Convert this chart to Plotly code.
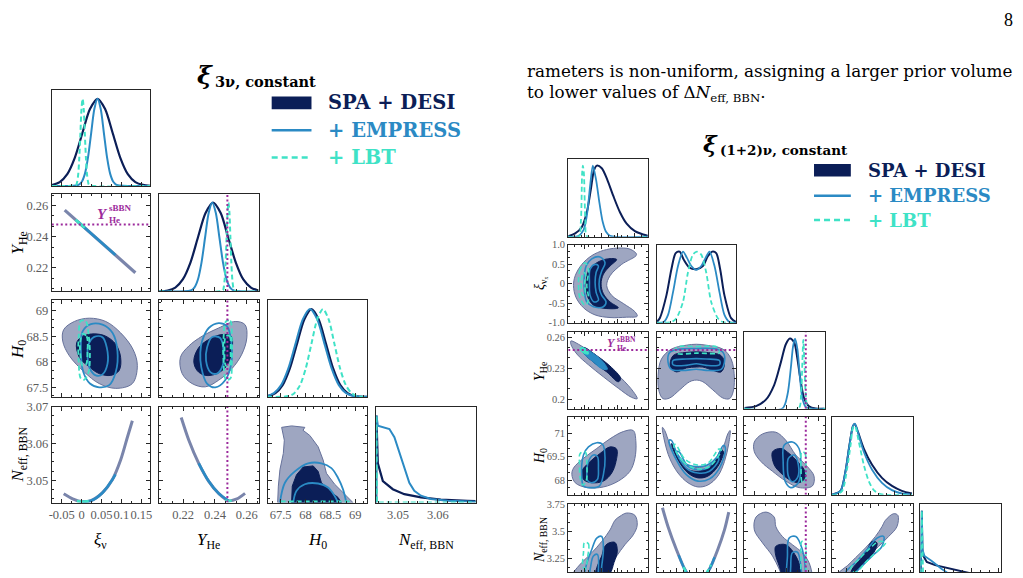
import plotly.graph_objects as go

# ======================= DATA =======================
# ---------- Left corner plot: xi_{3nu, constant} ----------
L_XI_TICKS = [-0.05, 0, 0.05, 0.1, 0.15]
L_XI_TICKTEXT = ['-0.05', '0', '0.05', '0.1', '0.15']
L_YHE_TICKS = [0.22, 0.24, 0.26]
L_YHE_TICKTEXT = ['0.22', '0.24', '0.26']
L_H0_TICKS = [67.5, 68, 68.5, 69]
L_H0_TICKTEXT = ['67.5', '68', '68.5', '69']
L_NEFF_TICKS = [3.05, 3.06, 3.07]
L_NEFF_TICKTEXT = ['3.05', '3.06', '3.07']
YHE_SBBN = 0.2478

# 1D marginals
L_XI_NAVY_X = [-0.075, -0.055, -0.036, -0.017, 0.002, 0.021, 0.04, 0.059, 0.078, 0.097, 0.116, 0.135, 0.154, 0.1725]
L_XI_NAVY_P = [0.01, 0.044, 0.135, 0.325, 0.607, 0.882, 1.0, 0.882, 0.607, 0.325, 0.135, 0.044, 0.011, 0.001]
L_XI_EMP_X = [-0.075, -0.008, 0.0, 0.008, 0.016, 0.024, 0.032, 0.04, 0.048, 0.056, 0.064, 0.072, 0.08, 0.088, 0.1725]
L_XI_EMP_P = [0.0, 0.011, 0.044, 0.135, 0.325, 0.607, 0.882, 1.0, 0.882, 0.607, 0.325, 0.135, 0.044, 0.011, 0.0]
L_XI_LBT_X = [-0.075, -0.014, -0.0113, -0.0085, -0.0058, -0.003, -0.0003, 0.0025, 0.0053, 0.008, 0.0108, 0.0135, 0.0163, 0.019, 0.1725]
L_XI_LBT_P = [0.0, 0.011, 0.044, 0.135, 0.325, 0.607, 0.882, 1.0, 0.882, 0.607, 0.325, 0.135, 0.044, 0.011, 0.0]

L_YHE_NAVY_X = [0.205, 0.2103, 0.2151, 0.2198, 0.2246, 0.2293, 0.2341, 0.2388, 0.2436, 0.2483, 0.2531, 0.2578, 0.2626, 0.2673]
L_YHE_NAVY_P = [0.002, 0.011, 0.044, 0.135, 0.325, 0.607, 0.882, 1.0, 0.882, 0.607, 0.325, 0.135, 0.044, 0.011]
L_YHE_EMP_X = [0.205, 0.2248, 0.22705, 0.2293, 0.23155, 0.2338, 0.23605, 0.2383, 0.24055, 0.2428, 0.24505, 0.2473, 0.24955, 0.2518, 0.2675]
L_YHE_EMP_P = [0.0, 0.011, 0.044, 0.135, 0.325, 0.607, 0.882, 1.0, 0.882, 0.607, 0.325, 0.135, 0.044, 0.011, 0.0]
L_YHE_LBT_X = [0.205, 0.2449, 0.2455, 0.2461, 0.2467, 0.2473, 0.2479, 0.2485, 0.2491, 0.2497, 0.2503, 0.2509, 0.2515, 0.2521, 0.2675]
L_YHE_LBT_P = [0.0, 0.011, 0.044, 0.135, 0.325, 0.607, 0.882, 1.0, 0.882, 0.607, 0.325, 0.135, 0.044, 0.011, 0.0]

L_H0_NAVY_X = [67.24, 67.395, 67.54, 67.685, 67.83, 67.975, 68.12, 68.265, 68.41, 68.555, 68.70, 68.845, 68.99, 69.24]
L_H0_NAVY_P = [0.01, 0.044, 0.135, 0.325, 0.607, 0.882, 1.0, 0.882, 0.607, 0.325, 0.135, 0.044, 0.011, 0.001]
L_H0_EMP_X = [67.24, 67.365, 67.51, 67.655, 67.80, 67.945, 68.09, 68.235, 68.38, 68.525, 68.67, 68.815, 68.96, 69.24]
L_H0_EMP_P = [0.013, 0.044, 0.135, 0.325, 0.607, 0.882, 1.0, 0.882, 0.607, 0.325, 0.135, 0.044, 0.011, 0.002]
L_H0_LBT_X = [67.24, 67.66, 67.775, 67.89, 68.005, 68.12, 68.235, 68.35, 68.465, 68.58, 68.695, 68.81, 68.925, 69.04, 69.24]
L_H0_LBT_P = [0.0, 0.011, 0.044, 0.135, 0.325, 0.607, 0.882, 1.0, 0.882, 0.607, 0.325, 0.135, 0.044, 0.011, 0.0]

L_NEFF_NAVY_X = [3.0445, 3.04455, 3.04492, 3.04618, 3.04868, 3.05158, 3.05575, 3.06075, 3.06743, 3.0695]
L_NEFF_NAVY_P = [0.0, 1.0, 0.452, 0.247, 0.154, 0.097, 0.06, 0.034, 0.019, 0.016]
L_NEFF_EMP_X = [3.0445, 3.04455, 3.04492, 3.04783, 3.04908, 3.05033, 3.05158, 3.05283, 3.05408, 3.05575, 3.05825, 3.06243, 3.0695]
L_NEFF_EMP_P = [0.0, 1.0, 0.883, 0.845, 0.752, 0.584, 0.396, 0.228, 0.135, 0.079, 0.042, 0.022, 0.011]
L_NEFF_LBT_X = [3.0445, 3.04455, 3.0447, 3.0695]
L_NEFF_LBT_P = [0.0, 1.0, 0.0, 0.0]

# 2D: (Y_He vs xi)
L21_BAND_X = [-0.0425, 0.135]
L21_BAND_Y = [0.257, 0.217]
L21_EMP_X = [-0.01, 0.085]
L21_EMP_Y = [0.2497, 0.2283]
L21_LBT_X = [-0.015, 0.0075]
L21_LBT_Y = [0.2508, 0.2457]
# 2D: (H0 vs xi)
L31_OUT_X = [-0.045, -0.0183, 0.0193, 0.0608, 0.098, 0.129, 0.14, 0.1275, 0.0858, 0.044, 0.0068, -0.0308, -0.0475]
L31_OUT_Y = [68.633, 68.793, 68.858, 68.793, 68.57, 68.248, 67.927, 67.575, 67.48, 67.575, 67.80, 68.12, 68.408]
L31_IN_X = [-0.0125, 0.0025, 0.0317, 0.0608, 0.0858, 0.098, 0.0942, 0.0733, 0.044, 0.015, -0.0058]
L31_IN_Y = [68.377, 68.504, 68.55, 68.504, 68.345, 68.09, 67.83, 67.735, 67.77, 67.927, 68.09]
L31_EMP1_X = [0.0025, 0.0233, 0.0525, 0.0775, 0.09, 0.0858, 0.0693, 0.044, 0.0208, 0.0043, -0.0018]
L31_EMP1_Y = [68.60, 68.742, 68.73, 68.57, 68.216, 67.80, 67.543, 67.50, 67.575, 67.80, 68.216]
L31_EMP2_X = [0.0175, 0.0317, 0.0525, 0.0633, 0.065, 0.0525, 0.0358, 0.0208, 0.015]
L31_EMP2_Y = [68.345, 68.49, 68.485, 68.28, 67.96, 67.755, 67.735, 67.865, 68.09]
L31_LBT1_X = [-0.0017, 0.0108, 0.0175, 0.0208, 0.0175, 0.0068, -0.0017, -0.0075, -0.0075]
L31_LBT1_Y = [68.806, 68.793, 68.537, 68.152, 67.80, 67.652, 67.67, 68.023, 68.47]
L31_LBT2_X = [0.0025, 0.0125, 0.015, 0.0108, 0.0025, -0.0033, -0.0033]
L31_LBT2_Y = [68.55, 68.504, 68.216, 67.947, 67.927, 68.152, 68.408]
# 2D: (H0 vs Y_He)
L32_OUT_X = [0.2183, 0.2236, 0.2319, 0.2423, 0.2527, 0.2589, 0.26, 0.2569, 0.2506, 0.2423, 0.2339, 0.2256, 0.2194]
L32_OUT_Y = [68.09, 68.312, 68.504, 68.665, 68.793, 68.73, 68.47, 68.152, 67.865, 67.64, 67.51, 67.575, 67.77]
L32_IN_X = [0.2267, 0.2298, 0.2361, 0.2444, 0.2502, 0.2506, 0.2475, 0.2413, 0.2339, 0.2288]
L32_IN_Y = [68.023, 68.28, 68.44, 68.537, 68.504, 68.216, 67.927, 67.77, 67.735, 67.83]
L32_EMP1_X = [0.2319, 0.2361, 0.2423, 0.2475, 0.2502, 0.2502, 0.2464, 0.2402, 0.235, 0.2314, 0.2308]
L32_EMP1_Y = [68.408, 68.665, 68.762, 68.70, 68.408, 67.96, 67.64, 67.50, 67.575, 67.897, 68.185]
L32_EMP2_X = [0.235, 0.2381, 0.2433, 0.2454, 0.2448, 0.2413, 0.2371, 0.2344]
L32_EMP2_Y = [68.28, 68.485, 68.47, 68.216, 67.927, 67.77, 67.80, 68.023]
L32_LBT1_X = [0.2469, 0.2496, 0.2506, 0.2506, 0.2496, 0.2469, 0.2454, 0.2454]
L32_LBT1_Y = [68.793, 68.806, 68.47, 68.023, 67.67, 67.652, 68.023, 68.47]
L32_LBT2_X = [0.2469, 0.2492, 0.2498, 0.2492, 0.2469, 0.246]
L32_LBT2_Y = [68.504, 68.504, 68.216, 67.927, 67.927, 68.216]
# 2D: (Neff vs xi), (Neff vs Y_He)
L41_BAND_X = [-0.045, -0.0225, 0.0025, 0.0233, 0.0525, 0.0775, 0.098, 0.115, 0.1275]
L41_BAND_Y = [3.0463, 3.0449, 3.0441, 3.0444, 3.0466, 3.0502, 3.0555, 3.0617, 3.0662]
L41_EMP_X = [0.0025, 0.0233, 0.0525, 0.0775, 0.085]
L41_EMP_Y = [3.0441, 3.0444, 3.0466, 3.0502, 3.0516]
L41_LBT_X = [-0.012, 0.004, 0.018]
L41_LBT_Y = [3.0443, 3.0441, 3.0443]
L42_BAND_X = [0.2188, 0.2236, 0.2298, 0.2361, 0.2423, 0.2486, 0.2538, 0.2589]
L42_BAND_Y = [3.0671, 3.0609, 3.0546, 3.0497, 3.0464, 3.0444, 3.0449, 3.0464]
L42_EMP_X = [0.2298, 0.2361, 0.2423, 0.2486]
L42_EMP_Y = [3.0546, 3.0497, 3.0464, 3.0444]
L42_LBT_X = [0.2465, 0.2486, 0.2505]
L42_LBT_Y = [3.0445, 3.0443, 3.0445]
# 2D: (Neff vs H0)
L43_OUT_X = [67.44, 67.454, 67.486, 67.554, 67.574, 67.554, 67.52, 67.72, 67.986, 67.95, 68.086, 68.254, 68.354, 68.42, 68.586, 68.786, 68.954]
L43_OUT_Y = [3.0439, 3.0484, 3.0529, 3.0573, 3.0609, 3.0626, 3.0644, 3.0648, 3.0644, 3.0636, 3.0622, 3.0591, 3.0555, 3.0519, 3.0489, 3.0462, 3.0439]
L43_IN_X = [67.72, 67.734, 67.82, 67.954, 68.154, 68.254, 68.32, 68.486, 68.654, 68.72]
L43_IN_Y = [3.0439, 3.0484, 3.0515, 3.0536, 3.0539, 3.0524, 3.0493, 3.0471, 3.0453, 3.0439]
L43_EMP1_X = [67.486, 67.586, 67.786, 68.054, 68.32, 68.52, 68.654, 68.754, 68.82]
L43_EMP1_Y = [3.0439, 3.0493, 3.0524, 3.0546, 3.0546, 3.0533, 3.0506, 3.0475, 3.0439]
L43_EMP2_X = [67.754, 67.82, 67.986, 68.254, 68.454, 68.586, 68.654]
L43_EMP2_Y = [3.0439, 3.0471, 3.0489, 3.0491, 3.048, 3.0457, 3.0439]
L43_LBT_X = [67.5, 68.9]
L43_LBT_Y = [3.0442, 3.0442]

# ---------- Right corner plot: xi_{(1+2)nu, constant} ----------
R_XIE_TICKS = [-0.05, 0, 0.05, 0.1, 0.15]
R_XIX_TICKS = [-1, -0.5, 0, 0.5, 1]
R_XIX_TICKTEXT = ['-1.0', '-0.5', '0', '0.5', '1.0']
R_YHE_TICKS = [0.2, 0.23, 0.26]
R_YHE_TICKTEXT = ['0.2', '0.23', '0.26']
R_H0_TICKS = [68, 69.5, 71]
R_H0_TICKTEXT = ['68', '69.5', '71']
R_NEFF_TICKS = [3.25, 3.5, 3.75]
R_NEFF_TICKTEXT = ['3.25', '3.5', '3.75']

R_XIE_NAVY_X = [-0.05, -0.029, -0.0089, 0.0061, 0.0181, 0.028, 0.0361, 0.0511, 0.0679, 0.0859, 0.106, 0.1261, 0.151, 0.176, 0.19]
R_XIE_NAVY_P = [0.008, 0.046, 0.1375, 0.344, 0.664, 0.939, 1.0, 0.9625, 0.80, 0.573, 0.344, 0.183, 0.078, 0.032, 0.014]
R_XIE_EMP_X = [-0.05, -0.0191, -0.004, 0.0061, 0.016, 0.0241, 0.034, 0.044, 0.0541, 0.064, 0.076, 0.19]
R_XIE_EMP_P = [0.0, 0.01, 0.092, 0.298, 0.711, 1.0, 0.80, 0.481, 0.206, 0.069, 0.014, 0.0]
R_XIE_LBT_X = [-0.05, -0.018, -0.0119, -0.008, -0.0059, -0.0029, 0.0019, 0.0079, 0.19]
R_XIE_LBT_P = [0.0, 0.0, 0.21, 0.90, 1.0, 0.90, 0.21, 0.0, 0.0]

R_XIX_NAVY_X = [-1.0, -0.925, -0.758, -0.633, -0.525, -0.425, -0.325, -0.175, -0.008, 0.158, 0.283, 0.392, 0.492, 0.592, 0.70, 0.867, 0.992]
R_XIX_NAVY_P = [0.01, 0.064, 0.385, 0.752, 0.98, 1.0, 0.89, 0.774, 0.752, 0.798, 0.935, 1.0, 0.98, 0.752, 0.385, 0.064, 0.01]
R_XIX_EMP_X = [-1.0, -0.825, -0.717, -0.592, -0.467, -0.342, -0.242, -0.133, -0.008, 0.117, 0.225, 0.325, 0.45, 0.575, 0.70, 0.825, 1.0]
R_XIX_EMP_P = [0.0, 0.01, 0.11, 0.43, 0.798, 1.0, 0.912, 0.798, 0.743, 0.798, 0.912, 1.0, 0.798, 0.43, 0.11, 0.01, 0.0]
R_XIX_LBT_X = [-1.0, -0.633, -0.508, -0.342, -0.217, -0.092, 0.008, 0.117, 0.242, 0.367, 0.533, 0.658, 1.0]
R_XIX_LBT_P = [0.0, 0.01, 0.064, 0.293, 0.706, 0.958, 1.0, 0.958, 0.706, 0.293, 0.064, 0.01, 0.0]

R_YHE_NAVY_X = [0.1905, 0.2014, 0.2106, 0.2183, 0.2246, 0.2292, 0.233, 0.237, 0.24, 0.2431, 0.2462, 0.2508, 0.257, 0.2648]
R_YHE_NAVY_P = [0.012, 0.037, 0.13, 0.338, 0.664, 0.919, 1.0, 0.943, 0.71, 0.386, 0.153, 0.037, 0.004, 0.0]
R_YHE_EMP_X = [0.1905, 0.226, 0.2307, 0.2338, 0.236, 0.2378, 0.24, 0.2422, 0.2446, 0.2478, 0.2539, 0.2657]
R_YHE_EMP_P = [0.0, 0.004, 0.20, 0.571, 0.895, 1.0, 0.85, 0.478, 0.153, 0.024, 0.0, 0.0]
R_YHE_LBT_X = [0.1905, 0.2409, 0.2434, 0.2446, 0.2455, 0.2465, 0.2478, 0.2502, 0.2657]
R_YHE_LBT_P = [0.0, 0.0, 0.20, 0.664, 0.98, 0.664, 0.20, 0.0, 0.0]

R_H0_NAVY_X = [67.06, 67.185, 67.60, 67.91, 68.16, 68.39, 68.50, 68.70, 69.06, 69.58, 70.20, 70.83, 71.45, 72.08]
R_H0_NAVY_P = [0.005, 0.009, 0.055, 0.33, 0.697, 0.972, 0.994, 0.88, 0.65, 0.422, 0.238, 0.124, 0.055, 0.018]
R_H0_EMP_X = [67.06, 67.185, 67.60, 67.91, 68.16, 68.39, 68.50, 68.75, 69.06, 69.58, 70.20, 70.83, 71.45, 72.08]
R_H0_EMP_P = [0.005, 0.009, 0.055, 0.33, 0.697, 0.972, 1.0, 0.834, 0.605, 0.353, 0.169, 0.065, 0.018, 0.005]
R_H0_LBT_X = [67.06, 67.29, 67.70, 68.02, 68.23, 68.39, 68.50, 68.75, 69.06, 69.37, 69.69, 70.0, 70.42, 72.08]
R_H0_LBT_P = [0.0, 0.0, 0.055, 0.376, 0.697, 0.949, 0.972, 0.742, 0.422, 0.193, 0.065, 0.018, 0.0, 0.0]

R_NEFF_NAVY_X = [3.035, 3.0468, 3.0532, 3.0923, 3.1686, 3.2895, 3.4414, 3.6, 3.77]
R_NEFF_NAVY_P = [0.0, 1.0, 0.385, 0.28, 0.234, 0.188, 0.133, 0.08, 0.05]
R_NEFF_EMP_X = [3.035, 3.0468, 3.0532, 3.0714, 3.1377, 3.2286, 3.3195, 3.5, 3.77]
R_NEFF_EMP_P = [0.0, 1.0, 0.454, 0.362, 0.293, 0.179, 0.087, 0.03, 0.0]
R_NEFF_LBT_X = [3.035, 3.0468, 3.06, 3.77]
R_NEFF_LBT_P = [0.0, 1.0, 0.0, 0.0]

R21_OUT_X = [0.156, 0.136, 0.096, 0.056, 0.021, -0.009, -0.029, -0.034, -0.027, -0.004, 0.031, 0.076, 0.126, 0.158, 0.151, 0.116, 0.081, 0.066, 0.076, 0.111]
R21_OUT_Y = [0.742, 0.883, 0.908, 0.85, 0.717, 0.492, 0.20, -0.05, -0.342, -0.617, -0.80, -0.867, -0.858, -0.833, -0.717, -0.508, -0.30, -0.05, 0.20, 0.492]
R21_IN_X = [0.096, 0.068, 0.036, 0.011, 0.004, 0.009, 0.026, 0.061, 0.101, 0.076, 0.056, 0.049, 0.056, 0.076]
R21_IN_Y = [0.617, 0.633, 0.533, 0.325, -0.008, -0.342, -0.55, -0.633, -0.617, -0.467, -0.258, -0.008, 0.242, 0.45]
R21_EMP1_X = [0.046, 0.021, 0.004, -0.002, -0.001, 0.006, 0.026, 0.056, 0.064, 0.051, 0.044, 0.044, 0.051, 0.061]
R21_EMP1_Y = [0.683, 0.633, 0.45, 0.117, -0.217, -0.467, -0.592, -0.592, -0.467, -0.30, -0.133, 0.117, 0.325, 0.533]
R21_EMP2_X = [0.031, 0.016, 0.014, 0.016, 0.028, 0.041, 0.034, 0.031, 0.034, 0.041]
R21_EMP2_Y = [0.492, 0.367, 0.033, -0.30, -0.467, -0.425, -0.217, 0.033, 0.283, 0.45]
R21_LBT1_X = [0.001, -0.014, -0.019, -0.014, 0.001, 0.011, 0.006, 0.011]
R21_LBT1_Y = [0.533, 0.367, -0.008, -0.383, -0.55, -0.425, -0.05, 0.367]
R21_LBT2_X = [-0.004, -0.011, -0.006, 0.001, -0.001, 0.002]
R21_LBT2_Y = [0.283, -0.008, -0.30, -0.258, -0.008, 0.242]

R31_OUT_X = [-0.042, -0.019, 0.021, 0.066, 0.111, 0.146, 0.158, 0.141, 0.101, 0.056, 0.011, -0.024, -0.042]
R31_OUT_Y = [0.2565, 0.2533, 0.2447, 0.2333, 0.22, 0.2073, 0.2003, 0.2016, 0.2105, 0.2216, 0.2333, 0.2438, 0.2533]
R31_IN_X = [-0.004, 0.036, 0.076, 0.108, 0.101, 0.066, 0.026, -0.006]
R31_IN_Y = [0.2502, 0.2422, 0.2321, 0.22, 0.2168, 0.2264, 0.2359, 0.246]
R31_EMP1_X = [-0.009, 0.021, 0.056, 0.068, 0.051, 0.021, -0.004]
R31_EMP1_Y = [0.2502, 0.2454, 0.2359, 0.2289, 0.2295, 0.2374, 0.2447]
R31_EMP2_X = [0.006, 0.041, 0.038, 0.004]
R31_EMP2_Y = [0.2454, 0.2374, 0.2352, 0.2428]
R31_LBT_X = [-0.012, 0.006, 0.011, -0.004, -0.014]
R31_LBT_Y = [0.2502, 0.2479, 0.2438, 0.2447, 0.2479]

R32_OUT_X = [-0.633, -0.258, -0.008, 0.242, 0.658, 0.867, 0.95, 0.908, 0.825, 0.658, 0.408, 0.158, -0.008, -0.175, -0.425, -0.675, -0.842, -0.942, -0.967, -0.883]
R32_OUT_Y = [0.2486, 0.2524, 0.2533, 0.2524, 0.2486, 0.239, 0.22, 0.2057, 0.2003, 0.201, 0.2089, 0.2168, 0.2184, 0.2168, 0.2089, 0.201, 0.2003, 0.2073, 0.2231, 0.239]
R32_IN_X = [-0.592, -0.258, 0.242, 0.617, 0.70, 0.617, 0.408, 0.158, -0.008, -0.258, -0.508, -0.658]
R32_IN_Y = [0.2422, 0.2454, 0.2454, 0.2422, 0.2343, 0.2264, 0.2279, 0.2311, 0.2311, 0.2302, 0.2264, 0.2311]
R32_EMP1_X = [-0.675, -0.425, -0.008, 0.492, 0.675, 0.70, 0.617, 0.242, -0.008, -0.342, -0.633, -0.717]
R32_EMP1_Y = [0.2454, 0.2486, 0.2492, 0.2486, 0.2447, 0.2359, 0.2289, 0.2279, 0.2289, 0.2279, 0.2289, 0.2359]
R32_EMP2_X = [-0.592, -0.258, 0.242, 0.575, 0.575, 0.242, -0.008, -0.258, -0.592]
R32_EMP2_Y = [0.2374, 0.239, 0.239, 0.2374, 0.2333, 0.2327, 0.2343, 0.2327, 0.2333]
R32_LBT_X = [-0.508, -0.008, 0.533, 0.575, -0.008, -0.508]
R32_LBT_Y = [0.2502, 0.2511, 0.2502, 0.2454, 0.2447, 0.2447]

R41_OUT_X = [-0.034, -0.004, 0.036, 0.076, 0.116, 0.146, 0.154, 0.151, 0.136, 0.101, 0.056, 0.006, -0.029, -0.039]
R41_OUT_Y = [68.77, 69.39, 70.02, 70.64, 71.10, 71.17, 70.44, 69.39, 68.56, 67.935, 67.56, 67.52, 67.83, 68.35]
R41_IN_X = [-0.009, 0.016, 0.046, 0.076, 0.096, 0.094, 0.081, 0.056, 0.021, -0.004]
R41_IN_Y = [68.56, 69.185, 69.70, 70.12, 69.98, 69.185, 68.45, 67.935, 67.83, 68.04]
R41_EMP1_X = [-0.009, -0.004, 0.011, 0.036, 0.054, 0.061, 0.056, 0.044, 0.016, -0.004]
R41_EMP1_Y = [68.14, 69.60, 70.12, 70.39, 70.27, 69.39, 68.35, 67.62, 67.52, 67.62]
R41_EMP2_X = [0.006, 0.011, 0.026, 0.038, 0.041, 0.038, 0.021, 0.008]
R41_EMP2_Y = [68.35, 69.185, 69.60, 69.50, 68.77, 68.04, 67.83, 67.98]
R41_LBT_X = [-0.014, 0.001, 0.006, 0.004, -0.006, -0.014, -0.016]
R41_LBT_Y = [69.70, 69.81, 68.98, 67.935, 67.685, 68.14, 68.98]

R42_OUT_X = [-0.858, -0.80, -0.675, -0.467, -0.217, 0.033, 0.283, 0.533, 0.70, 0.808, 0.842, 0.783, 0.658, 0.45, 0.20, -0.05, -0.30, -0.508, -0.675, -0.80]
R42_OUT_Y = [71.37, 70.435, 69.39, 68.45, 67.83, 67.56, 67.685, 68.25, 69.185, 70.33, 71.17, 70.95, 70.02, 69.29, 68.87, 68.81, 69.02, 69.60, 70.33, 71.17]
R42_IN_X = [-0.633, -0.467, -0.217, 0.033, 0.283, 0.533, 0.675, 0.617, 0.45, 0.20, -0.008, -0.258, -0.467, -0.592]
R42_IN_Y = [70.33, 69.29, 68.45, 68.14, 68.25, 68.87, 69.81, 69.92, 69.185, 68.67, 68.56, 68.73, 69.39, 70.23]
R42_EMP1_X = [-0.692, -0.508, -0.258, 0.033, 0.325, 0.575, 0.725, 0.675, 0.492, 0.242, -0.008, -0.258, -0.492, -0.633]
R42_EMP1_Y = [70.54, 69.29, 68.35, 67.935, 68.08, 68.77, 70.02, 70.23, 69.39, 68.935, 68.87, 69.02, 69.70, 70.54]
R42_EMP2_X = [-0.508, -0.258, 0.033, 0.325, 0.558, 0.533, 0.283, 0.033, -0.217, -0.442]
R42_EMP2_Y = [69.81, 68.77, 68.45, 68.56, 69.29, 69.50, 68.77, 68.67, 68.87, 69.81]
R42_LBT_X = [-0.575, -0.342, -0.008, 0.325, 0.617, 0.558, 0.283, -0.008, -0.30, -0.525]
R42_LBT_Y = [70.23, 69.185, 68.73, 68.87, 69.92, 69.98, 69.08, 68.98, 69.35, 70.27]

R43_OUT_X = [0.1998, 0.2075, 0.2199, 0.2292, 0.2385, 0.2492, 0.2555, 0.2539, 0.2415, 0.2292, 0.2168, 0.206, 0.1998]
R43_OUT_Y = [70.435, 70.95, 71.06, 70.54, 69.60, 68.87, 68.25, 67.62, 67.52, 67.935, 68.56, 69.185, 69.81]
R43_IN_X = [0.2168, 0.2246, 0.2323, 0.24, 0.2462, 0.2471, 0.2415, 0.2323, 0.2246, 0.2183]
R43_IN_Y = [69.81, 70.02, 69.70, 69.185, 68.67, 68.14, 67.83, 68.04, 68.45, 68.98]
R43_EMP1_X = [0.2276, 0.2353, 0.2415, 0.2431, 0.2409, 0.2338, 0.2285, 0.2267]
R43_EMP1_Y = [70.23, 70.435, 70.02, 68.77, 67.83, 67.52, 67.935, 69.185]
R43_EMP2_X = [0.2316, 0.2369, 0.2409, 0.24, 0.2353, 0.2316, 0.2307]
R43_EMP2_Y = [69.39, 69.60, 68.98, 68.14, 67.89, 68.25, 68.87]
R43_LBT_X = [0.2441, 0.2471, 0.2478, 0.2471, 0.2446, 0.2434]
R43_LBT_Y = [69.81, 69.70, 68.77, 67.935, 67.83, 68.77]

R51_OUT_X = [0.106, 0.126, 0.151, 0.158, 0.146, 0.121, 0.096, 0.074, 0.056, -0.045, -0.034, -0.009, 0.021, 0.051, 0.076, 0.091]
R51_OUT_Y = [3.641, 3.671, 3.65, 3.559, 3.468, 3.377, 3.271, 3.165, 3.059, 3.059, 3.12, 3.211, 3.302, 3.407, 3.514, 3.604]
R51_IN_X = [0.068, 0.091, 0.098, 0.088, 0.074, 0.031, 0.038, 0.051, 0.058]
R51_IN_Y = [3.386, 3.398, 3.316, 3.211, 3.104, 3.059, 3.18, 3.271, 3.347]
R51_EMP1_X = [0.036, 0.051, 0.056, 0.051, 0.046, 0.001, 0.004, 0.021]
R51_EMP1_Y = [3.438, 3.453, 3.332, 3.18, 3.059, 3.059, 3.18, 3.332]
R51_EMP2_X = [0.026, 0.038, 0.041, 0.036, 0.016, 0.018]
R51_EMP2_Y = [3.271, 3.286, 3.15, 3.059, 3.059, 3.18]
R51_LBT_X = [-0.001, 0.011, 0.009, 0.001, -0.006, -0.004]
R51_LBT_Y = [3.398, 3.386, 3.271, 3.15, 3.18, 3.302]

R52_BAND_X = [-0.858, -0.717, -0.508, -0.30, -0.15, 0.0, 0.15, 0.325, 0.533, 0.70, 0.808]
R52_BAND_Y = [3.72, 3.544, 3.332, 3.15, 3.07, 3.044, 3.07, 3.15, 3.332, 3.514, 3.68]
R52_EMP_X = [-0.45, -0.30, -0.15, 0.0, 0.15, 0.325, 0.45]
R52_EMP_Y = [3.28, 3.15, 3.07, 3.044, 3.07, 3.15, 3.26]
R52_LBT_X = [-0.33, -0.2, 0.0, 0.2, 0.36]
R52_LBT_Y = [3.17, 3.09, 3.044, 3.09, 3.19]

R53_OUT_X = [0.2014, 0.2106, 0.2183, 0.2199, 0.226, 0.2353, 0.2446, 0.2508, 0.2539, 0.2539, 0.2292, 0.223, 0.2168, 0.2075, 0.1998]
R53_OUT_Y = [3.634, 3.68, 3.634, 3.544, 3.453, 3.377, 3.302, 3.211, 3.089, 3.029, 3.029, 3.15, 3.271, 3.393, 3.514]
R53_IN_X = [0.2199, 0.2292, 0.2385, 0.2431, 0.2446, 0.2292, 0.223, 0.2193]
R53_IN_Y = [3.362, 3.377, 3.271, 3.15, 3.029, 3.029, 3.18, 3.302]
R53_EMP1_X = [0.2323, 0.2385, 0.2446, 0.2471, 0.2462, 0.2316, 0.2307]
R53_EMP1_Y = [3.438, 3.453, 3.332, 3.18, 3.029, 3.029, 3.271]
R53_EMP2_X = [0.2353, 0.24, 0.2431, 0.2431, 0.2348, 0.2338]
R53_EMP2_Y = [3.302, 3.307, 3.18, 3.029, 3.029, 3.18]
R53_LBT_X = [0.2441, 0.2471, 0.2478, 0.2471, 0.2441, 0.2434]
R53_LBT_Y = [3.407, 3.393, 3.211, 3.029, 3.029, 3.241]

R54_OUT_X = [70.42, 70.935, 71.20, 71.14, 70.62, 70.0, 69.37, 68.75, 68.23, 67.50, 67.08, 67.50, 68.02, 68.54, 69.165, 69.79, 70.20]
R54_OUT_Y = [3.604, 3.665, 3.65, 3.544, 3.453, 3.362, 3.271, 3.18, 3.089, 3.029, 3.029, 3.12, 3.18, 3.256, 3.347, 3.453, 3.544]
R54_IN_X = [69.58, 69.89, 69.685, 69.165, 68.64, 68.23, 68.33, 68.85, 69.27]
R54_IN_Y = [3.407, 3.393, 3.302, 3.211, 3.135, 3.089, 3.15, 3.241, 3.332]
R54_EMP_X = [69.89, 70.31, 70.20, 69.58, 68.955, 68.435, 68.02, 67.92, 68.54, 69.27]
R54_EMP_Y = [3.438, 3.453, 3.362, 3.271, 3.18, 3.104, 3.059, 3.12, 3.211, 3.332]
R54_LBT_X = [70.0, 70.42, 69.79, 69.165, 68.54, 68.23, 68.85, 69.48]
R54_LBT_Y = [3.407, 3.393, 3.302, 3.211, 3.12, 3.15, 3.256, 3.347]

LEGEND_LABELS = ['SPA + DESI', '+ EMPRESS', '+ LBT']

# ======================= STYLE / LAYOUT =======================
W, H = 1023, 578
NAVY = '#0b1e57'
SLATE = '#9ea6c1'
SLATE_EDGE = '#66719a'
BAND = '#7a85ab'
BLUE = '#2b8ac4'
CYAN = '#3fe2c6'
PURPLE = '#9c2a9c'
FRAME = '#262626'
TICKC = '#5c5c5c'
SERIF = 'Liberation Serif, DejaVu Serif, serif'
BOLDSERIF = 'DejaVu Serif, Liberation Serif, serif'
LBT_DASH = '5px,3px'

L_COLS = [(49, 148), (157, 257), (266, 366), (375, 475)]
L_ROWS = [(85, 183), (191, 291), (300, 399), (409, 507)]
R_COLS = [(568, 648), (657, 737), (745, 826), (833, 914), (922, 1003)]
R_ROWS = [(155, 235), (243, 323), (332, 411), (419, 499), (508, 578)]

fig = go.Figure()
layout = dict(width=W, height=H, margin=dict(l=0, r=0, t=0, b=0),
              paper_bgcolor='white', plot_bgcolor='white', showlegend=False)
_count = [0]


def add_axes(xb, yb, xcfg, ycfg):
    _count[0] += 1
    n = _count[0]
    s = '' if n == 1 else str(n)
    layout['xaxis' + s] = dict(xcfg, domain=[xb[0] / W, xb[1] / W], anchor='y' + s)
    layout['yaxis' + s] = dict(ycfg, domain=[1 - yb[1] / H, 1 - yb[0] / H], anchor='x' + s)
    return ('x' + s, 'y' + s)


def tick_axis(rng, tv, tt, mdt, labels, mirror_ticks, fsize):
    return dict(range=rng, showline=True, linecolor=FRAME, linewidth=1,
                mirror='allticks' if mirror_ticks else True,
                ticks='inside', ticklen=4, tickwidth=1, tickcolor=FRAME,
                tickmode='array', tickvals=tv, ticktext=tt if tt else [str(v) for v in tv],
                showticklabels=labels, tickangle=0,
                tickfont=dict(family=SERIF, size=fsize, color=TICKC),
                minor=dict(ticks='inside', ticklen=2, tickwidth=1, tickcolor=FRAME,
                           tickmode='linear', tick0=tv[0], dtick=mdt, showgrid=False),
                showgrid=False, zeroline=False, fixedrange=True)


def blank_axis(rng):
    return dict(range=rng, showline=True, linecolor=FRAME, linewidth=1, mirror=True,
                ticks='', showticklabels=False, showgrid=False, zeroline=False, fixedrange=True)


def curve(ax, xs, ys, color, width=2.0, dash='solid', shape='spline', smooth=0.8):
    fig.add_trace(go.Scatter(x=list(xs), y=list(ys), xaxis=ax[0], yaxis=ax[1], mode='lines',
                             line=dict(color=color, width=width, dash=dash, shape=shape,
                                       smoothing=smooth if shape == 'spline' else None),
                             hoverinfo='skip'))


def filled(ax, xs, ys, fill, edge, shape='spline'):
    xs = list(xs) + [xs[0]]
    ys = list(ys) + [ys[0]]
    fig.add_trace(go.Scatter(x=xs, y=ys, xaxis=ax[0], yaxis=ax[1], mode='lines', fill='toself',
                             fillcolor=fill,
                             line=dict(color=edge, width=1, shape=shape,
                                       smoothing=1.0 if shape == 'spline' else None),
                             hoverinfo='skip'))


def ring(ax, xs, ys, color, dash='solid', closed=True, width=1.8, shape='spline'):
    xs = list(xs) + ([xs[0]] if closed else [])
    ys = list(ys) + ([ys[0]] if closed else [])
    curve(ax, xs, ys, color, width=width, dash=dash, shape=shape, smooth=1.0)


def vline(ax, x, yr):
    curve(ax, [x, x], yr, PURPLE, width=2, dash='2px,2.5px', shape='linear')


def hline(ax, y, xr):
    curve(ax, xr, [y, y], PURPLE, width=2, dash='2px,2.5px', shape='linear')


# ---------------- Left plot axes ----------------
L_X = [dict(r=[-0.075, 0.1725], tv=L_XI_TICKS, tt=L_XI_TICKTEXT, m=0.025),
       dict(r=[0.205, 0.2675], tv=L_YHE_TICKS, tt=L_YHE_TICKTEXT, m=0.02 / 3),
       dict(r=[67.24, 69.24], tv=L_H0_TICKS, tt=L_H0_TICKTEXT, m=1 / 6),
       dict(r=[3.0445, 3.0695], tv=L_NEFF_TICKS, tt=L_NEFF_TICKTEXT, m=0.0025)]
L_Y = [None,
       dict(r=[0.205, 0.2675], tv=L_YHE_TICKS, tt=L_YHE_TICKTEXT, m=0.02 / 3),
       dict(r=[67.31, 69.21], tv=L_H0_TICKS, tt=L_H0_TICKTEXT, m=1 / 6),
       dict(r=[3.0439, 3.07], tv=L_NEFF_TICKS, tt=L_NEFF_TICKTEXT, m=0.0025)]

LAX = {}
for r in range(4):
    for c in range(r + 1):
        xa = L_X[c]
        bottom = (r == 3)
        if r == c:
            xcfg = tick_axis(xa['r'], xa['tv'], xa['tt'], xa['m'], bottom, False, 12.5)
            ycfg = blank_axis([0, 1.1])
        else:
            ya = L_Y[r]
            xcfg = tick_axis(xa['r'], xa['tv'], xa['tt'], xa['m'], bottom, True, 12.5)
            ycfg = tick_axis(ya['r'], ya['tv'], ya['tt'], ya['m'], c == 0, True, 12.5)
        LAX[(r, c)] = add_axes(L_COLS[c], L_ROWS[r], xcfg, ycfg)

# ---------------- Right plot axes ----------------
R_X = [dict(r=[-0.05, 0.19], tv=R_XIE_TICKS, tt=None, m=0.02),
       dict(r=[-1, 1], tv=R_XIX_TICKS, tt=R_XIX_TICKTEXT, m=1 / 6),
       dict(r=[0.1905, 0.2657], tv=R_YHE_TICKS, tt=R_YHE_TICKTEXT, m=0.01),
       dict(r=[67.06, 72.12], tv=R_H0_TICKS, tt=R_H0_TICKTEXT, m=0.5),
       dict(r=[3.035, 3.77], tv=R_NEFF_TICKS, tt=R_NEFF_TICKTEXT, m=0.25 / 3)]
R_Y = [None,
       dict(r=[-1, 1], tv=R_XIX_TICKS, tt=R_XIX_TICKTEXT, m=1 / 6),
       dict(r=[0.1905, 0.2657], tv=R_YHE_TICKS, tt=R_YHE_TICKTEXT, m=0.01),
       dict(r=[67.06, 72.06], tv=R_H0_TICKS, tt=R_H0_TICKTEXT, m=0.5),
       dict(r=[3.123, 3.759], tv=R_NEFF_TICKS, tt=R_NEFF_TICKTEXT, m=0.25 / 3)]

RAX = {}
for r in range(5):
    for c in range(r + 1):
        xa = R_X[c]
        if r == c:
            xcfg = tick_axis(xa['r'], xa['tv'], xa['tt'], xa['m'], False, False, 10.5)
            ycfg = blank_axis([0.1375, 1.1] if r == 4 else [0, 1.1])
        else:
            ya = R_Y[r]
            xcfg = tick_axis(xa['r'], xa['tv'], xa['tt'], xa['m'], False, True, 10.5)
            ycfg = tick_axis(ya['r'], ya['tv'], ya['tt'], ya['m'], c == 0, True, 10.5)
        RAX[(r, c)] = add_axes(R_COLS[c], R_ROWS[r], xcfg, ycfg)

# ======================= TRACES: left =======================
ax = LAX[(0, 0)]
curve(ax, L_XI_NAVY_X, L_XI_NAVY_P, NAVY, 2.2)
curve(ax, L_XI_EMP_X, L_XI_EMP_P, BLUE, 2.0)
curve(ax, L_XI_LBT_X, L_XI_LBT_P, CYAN, 2.0, LBT_DASH)

ax = LAX[(1, 1)]
curve(ax, L_YHE_NAVY_X, L_YHE_NAVY_P, NAVY, 2.2)
curve(ax, L_YHE_EMP_X, L_YHE_EMP_P, BLUE, 2.0)
curve(ax, L_YHE_LBT_X, L_YHE_LBT_P, CYAN, 2.0, LBT_DASH)
vline(ax, YHE_SBBN, [0, 1.1])

ax = LAX[(2, 2)]
curve(ax, L_H0_NAVY_X, L_H0_NAVY_P, NAVY, 2.2)
curve(ax, L_H0_EMP_X, L_H0_EMP_P, BLUE, 2.0)
curve(ax, L_H0_LBT_X, L_H0_LBT_P, CYAN, 2.0, LBT_DASH)

ax = LAX[(3, 3)]
curve(ax, L_NEFF_NAVY_X, L_NEFF_NAVY_P, NAVY, 2.2, shape='linear')
curve(ax, L_NEFF_EMP_X, L_NEFF_EMP_P, BLUE, 2.0, shape='linear')
curve(ax, L_NEFF_LBT_X, L_NEFF_LBT_P, CYAN, 2.0, LBT_DASH, shape='linear')

ax = LAX[(1, 0)]
curve(ax, L21_BAND_X, L21_BAND_Y, BAND, 3.2, shape='linear')
curve(ax, L21_EMP_X, L21_EMP_Y, BLUE, 2.6, shape='linear')
curve(ax, L21_LBT_X, L21_LBT_Y, CYAN, 2.6, shape='linear')
hline(ax, YHE_SBBN, [-0.075, 0.1725])

ax = LAX[(2, 0)]
filled(ax, L31_OUT_X, L31_OUT_Y, SLATE, SLATE_EDGE)
filled(ax, L31_IN_X, L31_IN_Y, NAVY, NAVY)
ring(ax, L31_EMP1_X, L31_EMP1_Y, BLUE)
ring(ax, L31_EMP2_X, L31_EMP2_Y, BLUE)
ring(ax, L31_LBT1_X, L31_LBT1_Y, CYAN, LBT_DASH)
ring(ax, L31_LBT2_X, L31_LBT2_Y, CYAN, LBT_DASH)

ax = LAX[(2, 1)]
filled(ax, L32_OUT_X, L32_OUT_Y, SLATE, SLATE_EDGE)
filled(ax, L32_IN_X, L32_IN_Y, NAVY, NAVY)
ring(ax, L32_EMP1_X, L32_EMP1_Y, BLUE)
ring(ax, L32_EMP2_X, L32_EMP2_Y, BLUE)
ring(ax, L32_LBT1_X, L32_LBT1_Y, CYAN, LBT_DASH)
ring(ax, L32_LBT2_X, L32_LBT2_Y, CYAN, LBT_DASH)
vline(ax, YHE_SBBN, [67.31, 69.21])

ax = LAX[(3, 0)]
curve(ax, L41_BAND_X, L41_BAND_Y, BAND, 3.0)
curve(ax, L41_EMP_X, L41_EMP_Y, BLUE, 2.6)
curve(ax, L41_LBT_X, L41_LBT_Y, CYAN, 2.6)

ax = LAX[(3, 1)]
curve(ax, L42_BAND_X, L42_BAND_Y, BAND, 3.0)
curve(ax, L42_EMP_X, L42_EMP_Y, BLUE, 2.6)
curve(ax, L42_LBT_X, L42_LBT_Y, CYAN, 2.6)
vline(ax, YHE_SBBN, [3.0439, 3.07])

ax = LAX[(3, 2)]
filled(ax, L43_OUT_X, L43_OUT_Y, SLATE, SLATE_EDGE, shape='linear')
filled(ax, L43_IN_X, L43_IN_Y, NAVY, NAVY, shape='linear')
ring(ax, L43_EMP1_X, L43_EMP1_Y, BLUE, closed=False)
ring(ax, L43_EMP2_X, L43_EMP2_Y, BLUE, closed=False)
curve(ax, L43_LBT_X, L43_LBT_Y, CYAN, 2.0, LBT_DASH, shape='linear')

# ======================= TRACES: right =======================
ax = RAX[(0, 0)]
curve(ax, R_XIE_NAVY_X, R_XIE_NAVY_P, NAVY, 2.0)
curve(ax, R_XIE_EMP_X, R_XIE_EMP_P, BLUE, 1.8)
curve(ax, R_XIE_LBT_X, R_XIE_LBT_P, CYAN, 1.8, LBT_DASH)

ax = RAX[(1, 1)]
curve(ax, R_XIX_NAVY_X, R_XIX_NAVY_P, NAVY, 2.0)
curve(ax, R_XIX_EMP_X, R_XIX_EMP_P, BLUE, 1.8)
curve(ax, R_XIX_LBT_X, R_XIX_LBT_P, CYAN, 1.8, LBT_DASH)

ax = RAX[(2, 2)]
curve(ax, R_YHE_NAVY_X, R_YHE_NAVY_P, NAVY, 2.0)
curve(ax, R_YHE_EMP_X, R_YHE_EMP_P, BLUE, 1.8)
curve(ax, R_YHE_LBT_X, R_YHE_LBT_P, CYAN, 1.8, LBT_DASH)
vline(ax, YHE_SBBN, [0, 1.1])

ax = RAX[(3, 3)]
curve(ax, R_H0_NAVY_X, R_H0_NAVY_P, NAVY, 2.0)
curve(ax, R_H0_EMP_X, R_H0_EMP_P, BLUE, 1.8)
curve(ax, R_H0_LBT_X, R_H0_LBT_P, CYAN, 1.8, LBT_DASH)

ax = RAX[(4, 4)]
curve(ax, R_NEFF_NAVY_X, R_NEFF_NAVY_P, NAVY, 2.0, shape='linear')
curve(ax, R_NEFF_EMP_X, R_NEFF_EMP_P, BLUE, 1.8, shape='linear')
curve(ax, R_NEFF_LBT_X, R_NEFF_LBT_P, CYAN, 1.8, LBT_DASH, shape='linear')

ax = RAX[(1, 0)]
filled(ax, R21_OUT_X, R21_OUT_Y, SLATE, SLATE_EDGE)
filled(ax, R21_IN_X, R21_IN_Y, NAVY, NAVY)
ring(ax, R21_EMP1_X, R21_EMP1_Y, BLUE, width=1.6)
ring(ax, R21_EMP2_X, R21_EMP2_Y, BLUE, width=1.6)
ring(ax, R21_LBT1_X, R21_LBT1_Y, CYAN, LBT_DASH, width=1.6)
ring(ax, R21_LBT2_X, R21_LBT2_Y, CYAN, LBT_DASH, width=1.6)

ax = RAX[(2, 0)]
filled(ax, R31_OUT_X, R31_OUT_Y, SLATE, SLATE_EDGE)
filled(ax, R31_IN_X, R31_IN_Y, NAVY, NAVY)
filled(ax, R31_EMP1_X, R31_EMP1_Y, BLUE, BLUE)
filled(ax, R31_EMP2_X, R31_EMP2_Y, BLUE, BLUE)
filled(ax, R31_LBT_X, R31_LBT_Y, CYAN, CYAN)
hline(ax, YHE_SBBN, [-0.05, 0.19])

ax = RAX[(2, 1)]
filled(ax, R32_OUT_X, R32_OUT_Y, SLATE, SLATE_EDGE)
filled(ax, R32_IN_X, R32_IN_Y, NAVY, NAVY)
ring(ax, R32_EMP1_X, R32_EMP1_Y, BLUE, width=1.6)
ring(ax, R32_EMP2_X, R32_EMP2_Y, BLUE, width=1.6)
ring(ax, R32_LBT_X, R32_LBT_Y, CYAN, LBT_DASH, width=1.6)
hline(ax, YHE_SBBN, [-1, 1])

ax = RAX[(3, 0)]
filled(ax, R41_OUT_X, R41_OUT_Y, SLATE, SLATE_EDGE)
filled(ax, R41_IN_X, R41_IN_Y, NAVY, NAVY)
ring(ax, R41_EMP1_X, R41_EMP1_Y, BLUE, width=1.6)
ring(ax, R41_EMP2_X, R41_EMP2_Y, BLUE, width=1.6)
ring(ax, R41_LBT_X, R41_LBT_Y, CYAN, LBT_DASH, width=1.6)

ax = RAX[(3, 1)]
filled(ax, R42_OUT_X, R42_OUT_Y, SLATE, SLATE_EDGE)
filled(ax, R42_IN_X, R42_IN_Y, NAVY, NAVY)
ring(ax, R42_EMP1_X, R42_EMP1_Y, BLUE, width=1.6)
ring(ax, R42_EMP2_X, R42_EMP2_Y, BLUE, width=1.6)
ring(ax, R42_LBT_X, R42_LBT_Y, CYAN, LBT_DASH, width=1.6)

ax = RAX[(3, 2)]
filled(ax, R43_OUT_X, R43_OUT_Y, SLATE, SLATE_EDGE)
filled(ax, R43_IN_X, R43_IN_Y, NAVY, NAVY)
ring(ax, R43_EMP1_X, R43_EMP1_Y, BLUE, width=1.6)
ring(ax, R43_EMP2_X, R43_EMP2_Y, BLUE, width=1.6)
ring(ax, R43_LBT_X, R43_LBT_Y, CYAN, LBT_DASH, width=1.6)
vline(ax, YHE_SBBN, [67.06, 72.06])

ax = RAX[(4, 0)]
filled(ax, R51_OUT_X, R51_OUT_Y, SLATE, SLATE_EDGE)
filled(ax, R51_IN_X, R51_IN_Y, NAVY, NAVY)
ring(ax, R51_EMP1_X, R51_EMP1_Y, BLUE, width=1.6)
ring(ax, R51_EMP2_X, R51_EMP2_Y, BLUE, width=1.6)
ring(ax, R51_LBT_X, R51_LBT_Y, CYAN, LBT_DASH, width=1.6)

ax = RAX[(4, 1)]
curve(ax, R52_BAND_X, R52_BAND_Y, BAND, 3.0)
curve(ax, R52_EMP_X, R52_EMP_Y, BLUE, 2.4)
curve(ax, R52_LBT_X, R52_LBT_Y, CYAN, 2.4, LBT_DASH)

ax = RAX[(4, 2)]
filled(ax, R53_OUT_X, R53_OUT_Y, SLATE, SLATE_EDGE)
filled(ax, R53_IN_X, R53_IN_Y, NAVY, NAVY)
ring(ax, R53_EMP1_X, R53_EMP1_Y, BLUE, width=1.6)
ring(ax, R53_EMP2_X, R53_EMP2_Y, BLUE, width=1.6)
ring(ax, R53_LBT_X, R53_LBT_Y, CYAN, LBT_DASH, width=1.6)
vline(ax, YHE_SBBN, [3.123, 3.759])

ax = RAX[(4, 3)]
filled(ax, R54_OUT_X, R54_OUT_Y, SLATE, SLATE_EDGE)
filled(ax, R54_IN_X, R54_IN_Y, NAVY, NAVY)
ring(ax, R54_EMP_X, R54_EMP_Y, BLUE, width=1.6)
ring(ax, R54_LBT_X, R54_LBT_Y, CYAN, LBT_DASH, width=1.6)

# ======================= TEXT / LEGENDS =======================
ann = []
shapes = []


def px(x):
    return x / W


def py(y):
    return 1 - y / H


def text(x, y, s, size, color='black', xanchor='center', angle=0, bold=False, italic=False, family=SERIF):
    if bold:
        s = '<b>' + s + '</b>'
    if italic:
        s = '<i>' + s + '</i>'
    ann.append(dict(x=px(x), y=py(y), xref='paper', yref='paper', text=s, showarrow=False,
                    xanchor=xanchor, yanchor='middle', textangle=angle,
                    font=dict(family=family, size=size, color=color)))


# page text
text(1010, 13, '8', 18)
text(525, 65, 'rameters is non-uniform, assigning a larger prior volume', 16.8, xanchor='left',
     family=BOLDSERIF)
text(525, 89, 'to lower values of Δ<i>N</i><sub>eff, BBN</sub>.', 16.8, xanchor='left', family=BOLDSERIF)

# titles (large bold xi with a bold subscript)
text(203, 70, 'ξ', 25, bold=True, italic=True, family=BOLDSERIF)
text(211, 76, '3ν, constant', 14.5, xanchor='left', bold=True, family=BOLDSERIF)
text(711, 140, 'ξ', 23, bold=True, italic=True, family=BOLDSERIF)
text(719, 146, '(1+2)ν, constant', 13.5, xanchor='left', bold=True, family=BOLDSERIF)

# legends
LEG_COLORS = [NAVY, BLUE, CYAN]
for (x0, x1, ys, tx, fs) in [(270, 310, [98, 126, 154], 325, 19.5), (815, 852, [167, 193, 218], 867, 18)]:
    shapes.append(dict(type='rect', xref='paper', yref='paper', x0=px(x0), x1=px(x1),
                       y0=py(ys[0] + 6.5), y1=py(ys[0] - 6.5), fillcolor=NAVY, line=dict(width=0)))
    shapes.append(dict(type='line', xref='paper', yref='paper', x0=px(x0), x1=px(x1),
                       y0=py(ys[1]), y1=py(ys[1]), line=dict(color=BLUE, width=2.5)))
    shapes.append(dict(type='line', xref='paper', yref='paper', x0=px(x0), x1=px(x1),
                       y0=py(ys[2]), y1=py(ys[2]), line=dict(color=CYAN, width=2.5, dash='6px,4px')))
    for lab, yy, col in zip(LEGEND_LABELS, ys, LEG_COLORS):
        text(tx, yy, lab, fs, color=col, xanchor='left', bold=True, family=BOLDSERIF)

# Y_He^sBBN labels
text(100, 212, 'Y', 15, color=PURPLE, bold=True, italic=True)
text(105, 206, 'sBBN', 9, color=PURPLE, xanchor='left', bold=True)
text(105, 218, 'He', 9, color=PURPLE, xanchor='left', bold=True)
text(611, 344, 'Y', 12, color=PURPLE, bold=True, italic=True)
text(615, 340, 'sBBN', 7.5, color=PURPLE, xanchor='left', bold=True)
text(615, 349, 'He', 7.5, color=PURPLE, xanchor='left', bold=True)

# axis labels - left plot
text(16, 241, '<i>Y</i><sub>He</sub>', 17, angle=-90)
text(16, 350, '<i>H</i><sub>0</sub>', 17, angle=-90)
text(16, 458, '<i>N</i><sub>eff, BBN</sub>', 17, angle=-90)
text(98, 546, '<i>ξ</i><sub>ν</sub>', 17)
text(207, 546, '<i>Y</i><sub>He</sub>', 17)
text(316, 546, '<i>H</i><sub>0</sub>', 17)
text(425, 546, '<i>N</i><sub>eff, BBN</sub>', 17)

# axis labels - right plot
text(540, 283, '<i>ξ</i><sub>νₓ</sub>', 14, angle=-90)
text(540, 372, '<i>Y</i><sub>He</sub>', 14, angle=-90)
text(540, 459, '<i>H</i><sub>0</sub>', 14, angle=-90)
text(540, 545, '<i>N</i><sub>eff, BBN</sub>', 14, angle=-90)

layout['annotations'] = ann
layout['shapes'] = shapes
fig.update_layout(**layout)
fig.write_html('out.html')
